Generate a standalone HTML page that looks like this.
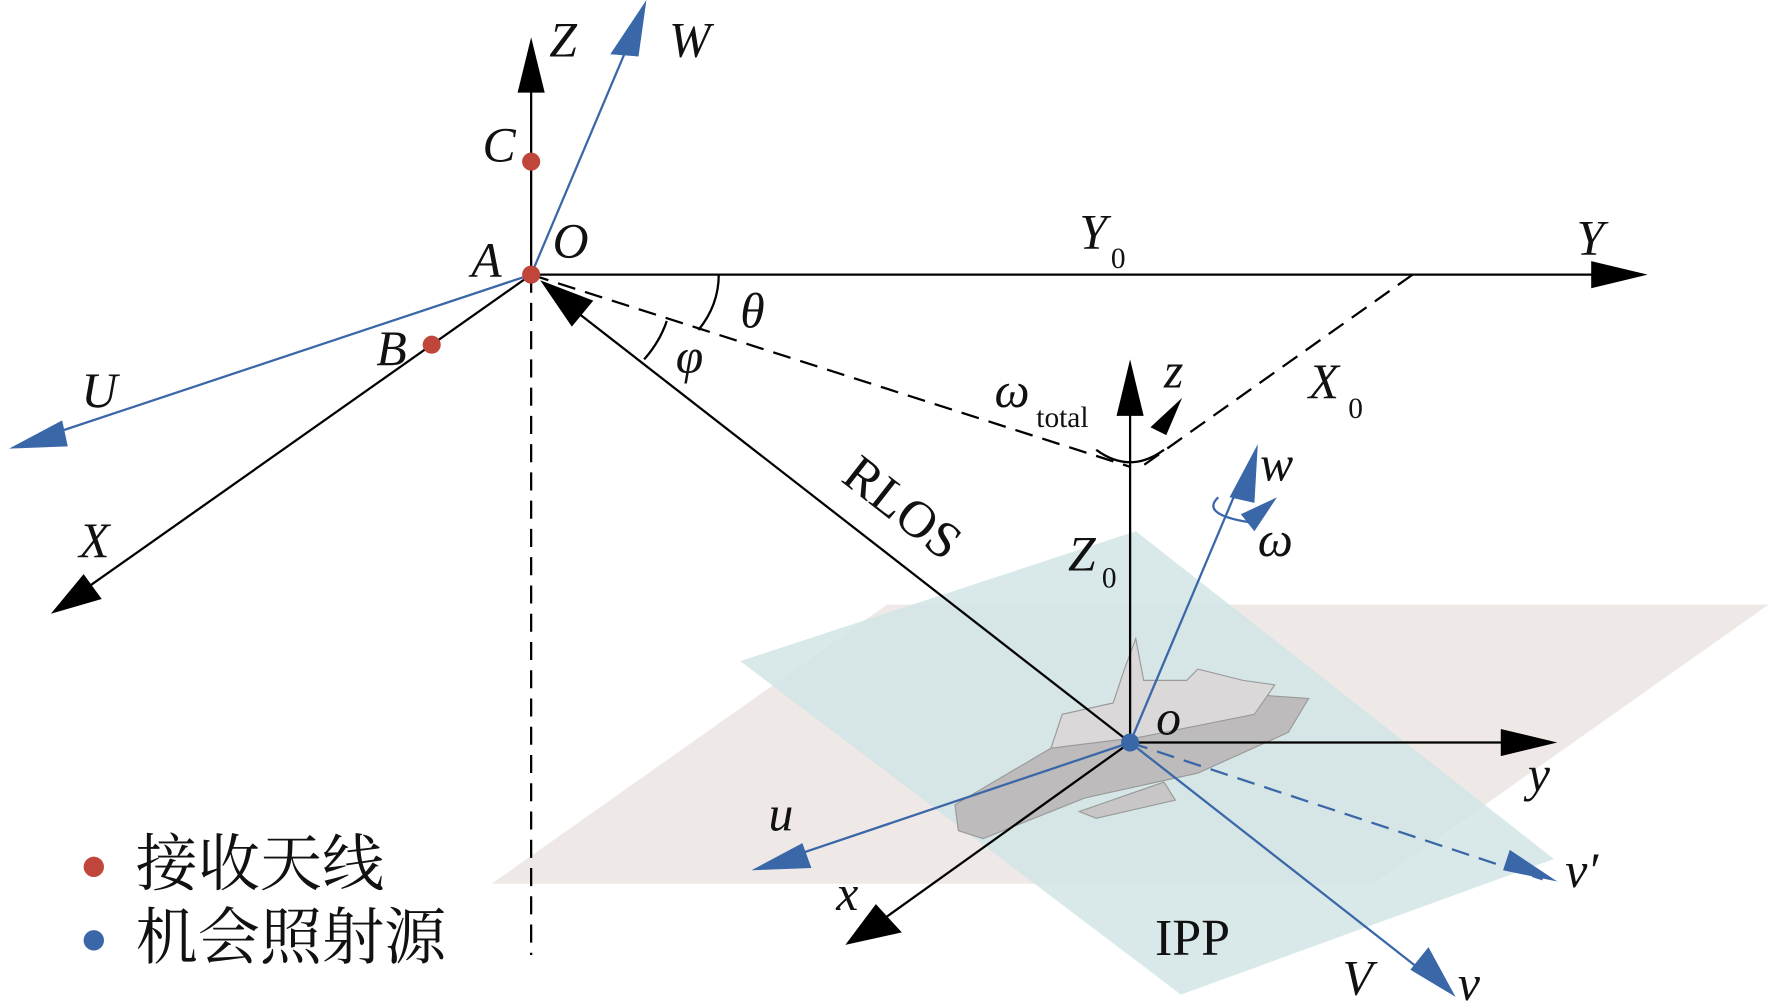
<!DOCTYPE html>
<html><head><meta charset="utf-8"><style>
html,body{margin:0;padding:0;background:#fff}
svg{display:block}
text{font-family:"Liberation Serif","Noto Serif CJK SC",serif;font-style:italic;fill:#111}
</style></head><body>
<svg width="1772" height="1007" viewBox="0 0 1568 891" preserveAspectRatio="none" xmlns="http://www.w3.org/2000/svg">
<!-- planes -->
<polygon points="435,782 1215,782 1565,535 785,535" fill="#eee9e6"/>
<polygon points="655,585 1005,470 1375,760 1045,880" fill="#cfe3e5" opacity="0.8"/>
<!-- ship (behind axes) -->
<g stroke="#999" stroke-width="1">
<polygon points="845,712 930,662 1010,630 1100,614 1158,618 1140,648 1060,684 960,706 870,742 848,735" fill="#bdbbbb"/>
<polygon points="930,662 940,632 985,622 995,592 1005,565 1012,602 1050,602 1060,592 1100,602 1128,606 1110,632 1010,652" fill="#dad8d8"/>
<polygon points="955,718 1030,692 1040,708 970,724" fill="#c8c6c6"/>
</g>
<!-- dashed lines -->
<g stroke="#000" stroke-width="2" stroke-dasharray="16,9" fill="none">
<line x1="470" y1="243" x2="470" y2="845"/>
<line x1="470" y1="243" x2="1000" y2="413"/>
<line x1="1250" y1="243" x2="1010" y2="413"/>
</g>
<line x1="1000" y1="657" x2="1365" y2="778" stroke="#3a67a8" stroke-width="2" stroke-dasharray="16,9"/>
<!-- black axes -->
<g stroke="#000" stroke-width="2">
<line x1="470" y1="243" x2="470" y2="60"/>
<line x1="470" y1="243" x2="1420" y2="243"/>
<line x1="470" y1="243" x2="70" y2="525"/>
<line x1="1000" y1="657" x2="500" y2="268"/>
<line x1="1000" y1="657" x2="1000" y2="345"/>
<line x1="1000" y1="657" x2="1345" y2="657"/>
<line x1="1000" y1="657" x2="775" y2="818"/>
</g>
<g fill="#000">
<polygon points="470,33 458,82 482,82"/>
<polygon points="1458,243 1408,231 1408,255"/>
<polygon points="45,543 74,508 90,530"/>
<polygon points="478,248 525,266 506,289"/>
<polygon points="1000,318 988,368 1012,368"/>
<polygon points="1378,657 1328,645 1328,669"/>
<polygon points="748,836 775,800 798,825"/>
<polygon points="1046,352 1032,385 1018,378"/>
</g>
<!-- blue axes -->
<g stroke="#3a67a8" stroke-width="2">
<line x1="470" y1="243" x2="560" y2="30"/>
<line x1="470" y1="243" x2="40" y2="386"/>
<line x1="1000" y1="657" x2="1100" y2="420"/>
<line x1="1000" y1="657" x2="700" y2="758"/>
<line x1="1000" y1="657" x2="1262" y2="862"/>
</g>
<g fill="#3a67a8">
<polygon points="572,0 540,48 565,50"/>
<polygon points="8,397 55,372 60,395"/>
<polygon points="1113,393 1088,440 1110,445"/>
<polygon points="665,770 710,746 718,768"/>
<polygon points="1288,882 1248,858 1264,838"/>
<polygon points="1378,780 1330,770 1336,752"/>
<polygon points="1098,455 1130,440 1110,470"/>
</g>
<!-- arcs -->
<g fill="none" stroke="#000" stroke-width="2">
<path d="M636,243 Q636,270 618,292"/>
<path d="M590,284 Q584,302 570,318"/>
<path d="M970,398 Q1000,420 1030,398"/>
</g>
<path d="M1078,440 Q1062,455 1105,462" fill="none" stroke="#3a67a8" stroke-width="2"/>
<!-- points -->
<circle cx="470" cy="243" r="8" fill="#c0453a"/>
<circle cx="470" cy="143" r="8" fill="#c0453a"/>
<circle cx="382" cy="305" r="8" fill="#c0453a"/>
<circle cx="1000" cy="657" r="8" fill="#3a67a8"/>
<circle cx="83" cy="767" r="9" fill="#c0453a"/>
<circle cx="83" cy="832" r="9" fill="#3a67a8"/>
<!-- labels -->
<g font-size="44">
<text x="486" y="50">Z</text>
<text x="592" y="50">W</text>
<text x="427" y="143">C</text>
<text x="417" y="245">A</text>
<text x="489" y="228">O</text>
<text x="955" y="220">Y</text>
<text x="1395" y="225">Y</text>
<text x="655" y="290">θ</text>
<text x="598" y="330">φ</text>
<text x="333" y="323">B</text>
<text x="72" y="360">U</text>
<text x="70" y="493">X</text>
<text x="880" y="360">ω</text>
<text x="1030" y="343">z</text>
<text x="1158" y="352">X</text>
<text x="1115" y="425">w</text>
<text x="1113" y="492">ω</text>
<text x="945" y="505">Z</text>
<text x="1023" y="650">o</text>
<text x="1352" y="700">y</text>
<text x="680" y="735">u</text>
<text x="740" y="805">x</text>
<text x="1385" y="785">v′</text>
<text x="1188" y="880">V</text>
<text x="1290" y="885">v</text>
</g>
<g font-size="26">
<text x="983" y="237" style="font-style:normal">0</text>
<text x="1193" y="370" style="font-style:normal">0</text>
<text x="975" y="520" style="font-style:normal">0</text>
<text x="917" y="378" style="font-style:normal">total</text>
</g>
<text x="743" y="425" font-size="46" transform="rotate(38 743 425)" style="font-style:normal">RLOS</text>
<text x="1022" y="845" font-size="46" style="font-style:normal">IPP</text>
<text x="120" y="783" font-size="55" style="font-style:normal">接收天线</text>
<text x="120" y="848" font-size="55" style="font-style:normal">机会照射源</text>
</svg>
</body></html>
